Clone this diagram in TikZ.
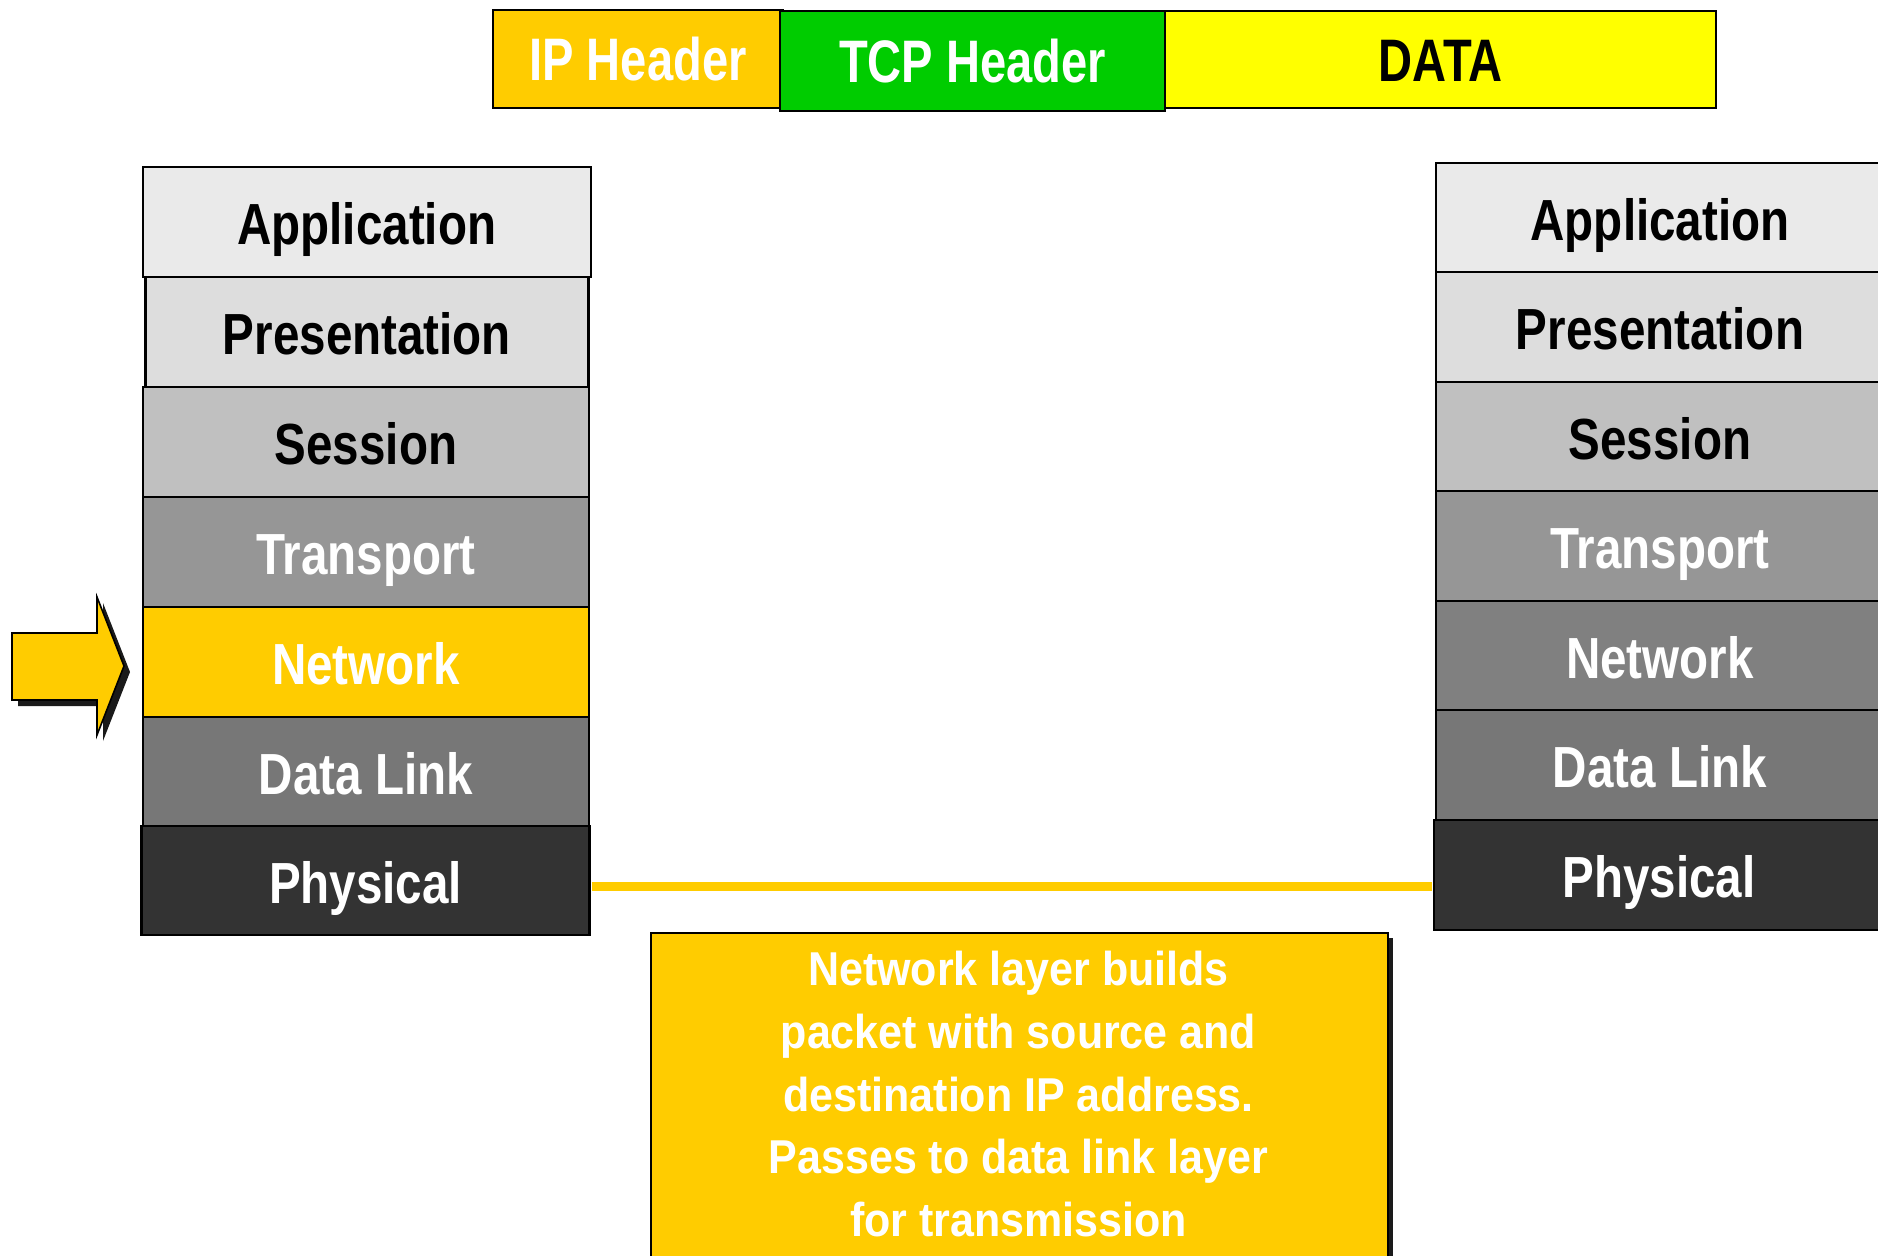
\documentclass[tikz,border=0pt]{standalone}
\usepackage{fontspec}
\setmainfont{Liberation Sans}
\newfontfamily\stackfont[FakeStretch=0.82]{Liberation Sans}
\newfontfamily\headfont[FakeStretch=0.785]{Liberation Sans}
\newfontfamily\notefont[FakeStretch=0.905]{Liberation Sans}
\usetikzlibrary{calc}
\definecolor{cApp}{HTML}{EAEAEA}
\definecolor{cPres}{HTML}{DDDDDD}
\definecolor{cSess}{HTML}{C0C0C0}
\definecolor{cTrans}{HTML}{969696}
\definecolor{cNetR}{HTML}{808080}
\definecolor{cLink}{HTML}{777777}
\definecolor{cPhys}{HTML}{333333}
\definecolor{cGold}{HTML}{FFCC00}
\definecolor{cGreen}{HTML}{00CC00}
\definecolor{cYellow}{HTML}{FFFF00}
\definecolor{cShadow}{HTML}{1A1A1A}
\begin{document}
\begin{tikzpicture}[x=0.5pt,y=-0.5pt,
  layer/.style={draw=black, line width=1.1pt, minimum height=55pt, minimum width=224pt,
    inner sep=0pt, font=\stackfont\bfseries\fontsize{29}{34}\selectfont,
    text height=22.5pt, text depth=0pt},
  darktext/.style={text=white},
  hdr/.style={draw=black, line width=1.1pt, inner sep=0pt,
    font=\headfont\bfseries\fontsize{30}{36}\selectfont,
    text height=21.7pt, text depth=0pt},
  notebox/.style={draw=black, line width=1.1pt, fill=cGold, inner sep=0pt, anchor=north west},
  notetext/.style={text=white, align=center, inner sep=0pt,
    font=\notefont\bfseries\fontsize{23.75}{31.3}\selectfont},
  yline/.style={draw=cGold, line width=4.5pt},
  arrowshape/.style={draw=black, line width=0.8pt, fill=cGold}
]
\clip (0,0) rectangle (1878,1255);
\fill[white] (0,0) rectangle (1878,1255);

% header
\node[hdr, fill=cGold, text=white, minimum width=145pt, minimum height=49pt] (ip) at (638,59) {IP Header};
\node[hdr, fill=cYellow, text=black, minimum width=275.5pt, minimum height=48.5pt] (data) at (1440.5,59.5) {DATA};
\node[hdr, fill=cGreen, text=white, minimum width=192.5pt, minimum height=50pt] (tcp) at (972.5,61) {TCP Header};

% yellow link line reference
\coordinate (lineY) at (0,886);

% left stack
\node[layer, fill=cApp] (lapp) at (366.75,222) {Application};
\node[layer, fill=cPres, minimum width=221.5pt] (lpres) at (367,332) {Presentation};
\node[layer, fill=cSess, minimum width=223pt] (lsess) at (366,442) {Session};
\node[layer, fill=cTrans, darktext, minimum width=223pt] (ltrans) at (366,552) {Transport};
\node[layer, fill=cGold, darktext, minimum width=223pt] (lnet) at (366,662) {Network};
\node[layer, fill=cLink, darktext, minimum width=223pt] (llink) at (366,772) {Data Link};
\node[layer, fill=cPhys, darktext, minimum width=224pt, minimum height=54.5pt] (lphys) at (365.5,880.5) {Physical};

% right stack
\node[layer, fill=cApp] (rapp) at (1660,217.8) {Application};
\node[layer, fill=cPres] (rpres) at (1660,327.3) {Presentation};
\node[layer, fill=cSess] (rsess) at (1660,436.8) {Session};
\node[layer, fill=cTrans, darktext] (rtrans) at (1660,546.3) {Transport};
\node[layer, fill=cNetR, darktext] (rnet) at (1660,655.8) {Network};
\node[layer, fill=cLink, darktext] (rlink) at (1660,765.3) {Data Link};
\node[layer, fill=cPhys, darktext, minimum width=225pt] (rphys) at (1659,874.8) {Physical};

% physical link
\draw[yline, shorten <=0.55pt, shorten >=0.55pt] (lphys.east |- lineY) -- (rphys.west |- lineY);

% arrow pointing at the network layer
\fill[cShadow] (18,639) -- (103,639) -- (103,603) -- (130,672) -- (103,741) -- (103,706) -- (18,706) -- cycle;
\draw[arrowshape] (12,633) -- (97,633) -- (97,597) -- (124,666) -- (97,735) -- (97,700) -- (12,700) -- cycle;

% note box
\fill[cShadow] (656,938) rectangle (1393,1276);
\node[notebox, minimum width=368.5pt, minimum height=169pt] (note) at (650,932) {};
\node[notetext, anchor=north] (notetxt) at (1018.5,951) {Network layer builds\\packet with source and\\destination IP address.\\Passes to data link layer\\for transmission};
\end{tikzpicture}
\end{document}
